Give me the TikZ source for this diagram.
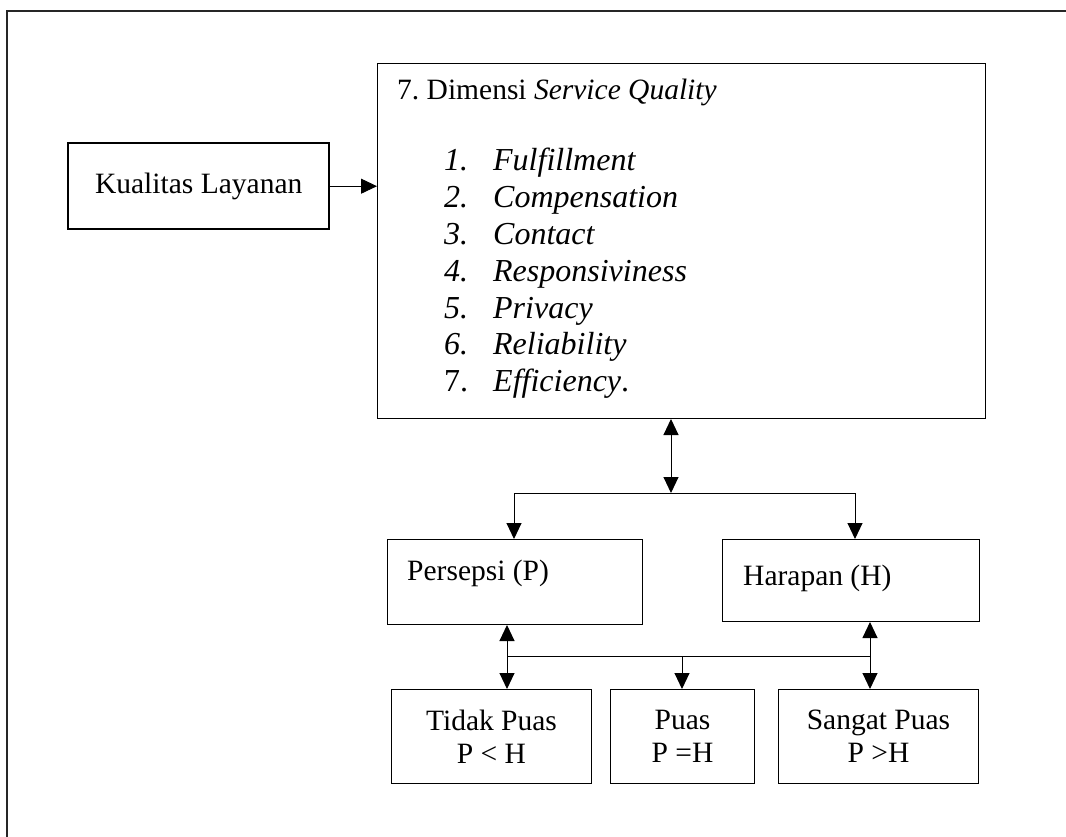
\documentclass[tikz,border=0pt]{standalone}
\usepackage{fontspec}
\setmainfont{Liberation Serif}
\usetikzlibrary{arrows.meta}
\frenchspacing

\begin{document}
\begin{tikzpicture}[x=1pt,y=-1pt,
        font=\fontsize{29.5}{33}\selectfont,
        box/.style={
          draw, line width=1pt, inner sep=0pt, anchor=north west
        },
        arr/.style={line width=1pt,-{Triangle[length=16pt,width=15pt]}},
        darr/.style={line width=1pt,{Triangle[length=16pt,width=15pt]}-{Triangle[length=16pt,width=15pt]}}
      ]
      \clip (0,0) rectangle (1066,837);
      \draw [line width=1.3pt, black!85] (7,860) -- (7,11) -- (1090,11);
      % boxes
      \node [box, line width=2.4pt, minimum width=261, minimum height=86] (kual) at (67,142) {Kualitas Layanan};
      \node [box, minimum width=608, minimum height=355] (dim) at (377,63) {};
      \node [anchor=base west, inner sep=0pt] (dimtitle) at (397,100) {7. Dimensi \textit{Service Quality}};
      \node [anchor=base west, inner sep=0pt, font=\fontsize{32}{36.8}\selectfont] (dimlist) at (444,171) {%
        \begin{tabular}[t]{@{}p{49pt}@{}l@{}}
          \textit{1.} & \textit{Fulfillment}\\
          \textit{2.} & \textit{Compensation}\\
          \textit{3.} & \textit{Contact}\\
          \textit{4.} & \textit{Responsiviness}\\
          \textit{5.} & \textit{Privacy}\\
          \textit{6.} & \textit{Reliability}\\
          7. & \textit{Efficiency}.
        \end{tabular}};
      \node [box, minimum width=255, minimum height=85] (pers) at (387,539) {};
      \node [anchor=base west, inner sep=0pt] (perstext) at (407,580) {Persepsi (P)};
      \node [box, minimum width=257, minimum height=82] (harap) at (722,539) {};
      \node [anchor=base west, inner sep=0pt] (haraptext) at (743,585) {Harapan (H)};
      \node [box, minimum width=200, minimum height=94, align=center] (tidak) at (391,689) {Tidak Puas\\P {\textless} H};
      \node [box, minimum width=144, minimum height=94, align=center] (puas) at (610,689) {Puas\\P =H};
      \node [box, minimum width=200, minimum height=94, align=center] (sangat) at (778,689) {Sangat Puas\\P {\textgreater}H};
      % connectors
      \draw [arr] (kual.east) -- (kual.east -| dim.west);
      \coordinate (jtop) at (671,493);
      \coordinate (jl) at (514,493);
      \coordinate (jr) at (855,493);
      \draw [darr] (dim.south -| jtop) -- (jtop);
      \draw [line width=1pt] (jl) -- (jr);
      \draw [arr] (jl) -- (jl |- pers.north);
      \draw [arr] (jr) -- (jr |- harap.north);
      \coordinate (kl) at (507,656);
      \coordinate (km) at (682,656);
      \coordinate (kr) at (870,656);
      \draw [line width=1pt] (kl) -- (kr);
      \draw [darr] (kl |- pers.south) -- (kl |- tidak.north);
      \draw [arr] (km) -- (km |- puas.north);
      \draw [darr] (kr |- harap.south) -- (kr |- sangat.north);
    \end{tikzpicture}
\end{document}
